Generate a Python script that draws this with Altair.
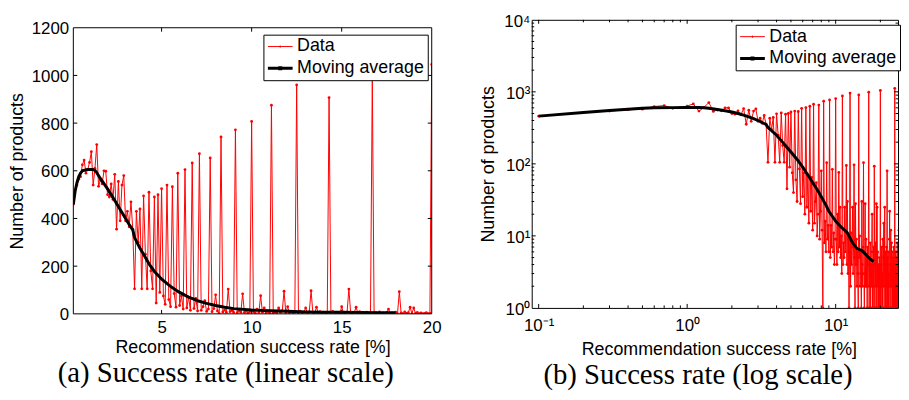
import altair as alt
import pandas as pd
import numpy as np

SERIES = ["Data", "Moving average"]

# Recommendation success-rate bins, 0.1 % wide: 0.1, 0.2, ... 27.0
rate_bins = np.round(np.arange(1, 271) * 0.1, 1)

# Number of products per bin
counts = [
    460, 520, 540, 565, 575, 625, 645, 590, 605, 635,   # 0.1 - 1.0
    680, 540, 610, 710, 535, 560, 545, 600, 598, 500,   # 1.1 - 2.0
    490, 545, 480, 585, 355, 555, 390, 540, 580, 390,   # 2.1 - 3.0
    430, 365, 470, 355, 105, 430, 300, 440, 105, 495,   # 3.1 - 4.0
    250, 105, 510, 180, 105, 490, 45, 500, 90, 525,     # 4.1 - 5.0
    75, 40, 540, 60, 30, 533, 85, 28, 590, 35,          # 5.1 - 6.0
    75, 20, 605, 25, 70, 15, 633, 22, 65, 12,           # 6.1 - 7.0
    672, 15, 30, 55, 10, 20, 654, 9, 22, 80,            # 7.1 - 8.0
    12, 1, 742, 8, 16, 6, 104, 9, 14, 6,                # 8.1 - 9.0
    772, 5, 14, 7, 84, 6, 11, 4, 9, 807,                # 9.1 - 10.0
    9, 4, 20, 6, 76, 7, 25, 5, 10, 3,                   # 10.1 - 11.0
    875, 4, 8, 5, 25, 6, 12, 95, 4, 30,                 # 11.1 - 12.0
    3, 9, 1, 6, 960, 2, 11, 4, 7, 25,                   # 12.1 - 13.0
    3, 8, 97, 5, 1, 28, 4, 9, 2, 6,                     # 13.1 - 14.0
    3, 1, 907, 5, 10, 2, 6, 3, 1, 30,                   # 14.1 - 15.0
    4, 2, 7, 104, 3, 1, 6, 28, 2, 9,                    # 15.1 - 16.0
    2, 5, 1, 7, 2, 4, 988, 1, 5, 2,                     # 16.1 - 17.0
    8, 1, 4, 2, 6, 20, 1, 4, 2, 7,                      # 17.1 - 18.0
    1, 93, 4, 1, 8, 2, 5, 28, 1, 25,                    # 18.1 - 19.0
    2, 6, 1, 4, 1, 2, 5, 1, 2, 1046,                    # 19.1 - 20.0
    1, 4, 2, 7, 1, 3, 1, 9, 2, 5,                       # 20.1 - 21.0
    15, 1, 4, 25, 2, 6, 1, 4, 1, 7,                     # 21.1 - 22.0
    2, 80, 1, 5, 2, 6, 1, 3, 2, 9,                      # 22.1 - 23.0
    22, 1, 4, 2, 12, 1, 5, 8, 2, 6,                     # 23.1 - 24.0
    1, 4, 2, 5, 1, 7, 2, 3, 1, 1120,                    # 24.1 - 25.0
    2, 4, 1, 6, 2, 3, 1, 5, 2, 8,                       # 25.1 - 26.0
    1, 5, 2, 6, 1, 3, 12, 2, 4, 1,                      # 26.1 - 27.0
]

# Moving average
ma_rate = [0.1, 0.2, 0.3, 0.4, 0.5, 0.6, 0.8, 1.0, 1.2, 1.3, 1.4, 1.6, 1.8,
           2.0, 2.2, 2.4, 2.6, 2.8, 3.0, 3.2, 3.4, 3.5, 3.6, 3.8, 4.0, 4.3,
           4.6, 5.0, 5.5, 6.0, 6.5, 7.0, 7.5, 8.0, 8.5, 9.0, 10.0, 11.0,
           12.0, 13.0, 14.0, 15.0, 16.0, 17.0, 18.0]
ma_count = [460, 515, 550, 575, 590, 600, 604, 606, 605, 602, 592, 568, 546,
            524, 500, 475, 450, 425, 400, 375, 352, 320, 305, 275, 250, 210,
            178, 146, 115, 90, 70, 55, 44, 35, 28, 22, 16, 13,
            11, 8, 6.6, 6.3, 5.5, 4.8, 4.4]

# Axis ticks / frame
lin_x_labels = [5, 10, 15, 20]
lin_y_labels = [0, 200, 400, 600, 800, 1000, 1200]
lin_x_ticks = [5, 10, 15]
lin_y_ticks = [200, 400, 600, 800, 1000]
lin_frame = {"lo": [0], "hi": [1200]}

log_x_labels = [0.1, 1, 10]
log_y_labels = [1, 10, 100, 1000, 10000]
log_x_major = [0.1, 1, 10]
log_x_minor = [0.2, 0.3, 0.4, 0.5, 0.6, 0.7, 0.8, 0.9,
               2, 3, 4, 5, 6, 7, 8, 9, 20]
log_y_major = [10, 100, 1000]
log_y_minor = [2, 3, 4, 5, 6, 7, 8, 9,
               20, 30, 40, 50, 60, 70, 80, 90,
               200, 300, 400, 500, 600, 700, 800, 900,
               2000, 3000, 4000, 5000, 6000, 7000, 8000, 9000]

data_df = pd.DataFrame({"rate": rate_bins, "count": counts, "series": "Data"})
ma_df = pd.DataFrame({"rate": ma_rate, "count": ma_count, "series": "Moving average"})

FONT = "Liberation Sans"
SERIF = "Liberation Serif"
SYMBOL = "M-1,0H2.33M0.6,-0.07H0.73V0.07H0.6Z"

SUP = "['\u207b\u00b9','\u2070','\u00b9','\u00b2','\u00b3','\u2074']"
LOG_LABEL = "'10' + " + SUP + "[round(log(datum.value)/LN10) + 1]"

# layout (pixels)
LIN_W, LIN_H, LIN_PAD = 362, 297, 8      # linear frame starts LIN_PAD below its plot top
LOG_W, LOG_H = 370, 291


def make_legend(lx, ly):
    return alt.Legend(title=None, orient="none", legendX=lx, legendY=ly,
                      symbolType=SYMBOL, symbolSize=225, labelFontSize=18,
                      labelFont=FONT, labelColor="black", labelOffset=13,
                      padding=3, rowPadding=4, strokeColor="black",
                      fillColor="white", cornerRadius=0)


def tick_layer(vals, scale, a, b, horizontal):
    src = alt.Chart(pd.DataFrame({"t": vals})).mark_rule(color="black", strokeWidth=1)
    if horizontal:
        return src.encode(x=alt.X("t:Q", scale=scale, axis=None),
                          y=alt.value(a), y2=alt.value(b))
    return src.encode(y=alt.Y("t:Q", scale=scale, axis=None),
                      x=alt.value(a), x2=alt.value(b))


def panel(W, H, top, xscale, yscale, xaxis, yaxis, xmaj, xmin, ymaj, ymin,
          leg, spacer, caption, cap_dx, cap_off, frame=None):
    color = alt.Color("series:N", scale=alt.Scale(domain=SERIES, range=["#ff0000", "#000000"]),
                      legend=leg)
    sw = alt.StrokeWidth("series:N", scale=alt.Scale(type="point", domain=SERIES,
                                                     range=[1.0, 3.0], padding=0),
                         legend=leg)
    data_line = alt.Chart(data_df).mark_line(clip=True).encode(
        x=alt.X("rate:Q", scale=xscale, axis=xaxis),
        y=alt.Y("count:Q", scale=yscale, axis=yaxis),
        color=color, strokeWidth=sw)
    data_pts = alt.Chart(data_df).mark_point(filled=True, size=8, color="#ff0000",
                                             opacity=1, clip=True).encode(
        x=alt.X("rate:Q", scale=xscale, axis=None),
        y=alt.Y("count:Q", scale=yscale, axis=None))
    ma_line = alt.Chart(ma_df).mark_line(clip=True, strokeJoin="round").encode(
        x=alt.X("rate:Q", scale=xscale, axis=None),
        y=alt.Y("count:Q", scale=yscale, axis=None),
        color=color, strokeWidth=sw)
    # top ticks; its (label-less) top axis reserves the space above the plot
    spacer_layer = alt.Chart(pd.DataFrame({"t": xmaj})).mark_rule(
        color="black", strokeWidth=1).encode(
        x=alt.X("t:Q", scale=xscale,
                axis=alt.Axis(orient="top", labels=False, ticks=False, domain=False,
                              grid=False, title=" ", titleFontSize=1,
                              titlePadding=spacer - 1,
                              minExtent=0, maxExtent=0)),
        y=alt.value(top), y2=alt.value(top + 4))
    layers = [data_line, data_pts, ma_line]
    if frame is not None:
        layers.append(alt.Chart(pd.DataFrame(frame)).mark_rect(
            filled=False, color="black", strokeWidth=1).encode(
            x=alt.value(0), x2=alt.value(W),
            y=alt.Y("hi:Q", scale=yscale, axis=None), y2="lo:Q"))
    layers += [spacer_layer, tick_layer(xmaj, xscale, H, H - 4, True)]
    if xmin:
        layers += [tick_layer(xmin, xscale, top, top + 2.5, True),
                   tick_layer(xmin, xscale, H, H - 2.5, True)]
    layers += [tick_layer(ymaj, yscale, 0, 4, False),
               tick_layer(ymaj, yscale, W, W - 4, False)]
    if ymin:
        layers += [tick_layer(ymin, yscale, 0, 2.5, False),
                   tick_layer(ymin, yscale, W, W - 2.5, False)]
    ch = alt.layer(*layers).resolve_axis(x="independent", y="independent").properties(
        width=W, height=H,
        title=alt.TitleParams(text=caption, orient="bottom", anchor="middle",
                              font=SERIF, fontSize=29, fontWeight="normal",
                              color="black", offset=cap_off, dx=cap_dx))
    if frame is not None:
        ch = ch.properties(view=alt.ViewBackground(stroke="transparent"))
    return ch


lin = panel(
    LIN_W, LIN_H, LIN_PAD,
    alt.Scale(domain=[0.1, 20], nice=False, zero=False),
    alt.Scale(domain=[0, 1200 * LIN_H / (LIN_H - LIN_PAD)], nice=False, zero=True),
    alt.Axis(values=lin_x_labels, title="Recommendation success rate [%]",
             labelPadding=5.6, titlePadding=3),
    alt.Axis(values=lin_y_labels, format="d", title="Number of products",
             labelPadding=4.7, titlePadding=4.5, labelOffset=1,
             titleY=LIN_PAD + (LIN_H - LIN_PAD) / 2),
    lin_x_ticks, [], lin_y_ticks, [],
    make_legend(192, 15), 1, "(a) Success rate (linear scale)", -27, 3.4,
    frame=lin_frame)

log = panel(
    LOG_W, LOG_H, 0,
    alt.Scale(type="log", domain=[0.0898, 26.3], nice=False),
    alt.Scale(type="log", domain=[1, 10000], nice=False),
    alt.Axis(values=log_x_labels, labelExpr=LOG_LABEL,
             title="Recommendation success rate [%]",
             labelPadding=10.3, titlePadding=6.6, titleX=189),
    alt.Axis(values=log_y_labels, labelExpr=LOG_LABEL, title="Number of products",
             labelPadding=2, titlePadding=6, labelOffset=2),
    log_x_major, log_x_minor, log_y_major, log_y_minor,
    make_legend(206, 5), 9, "(b) Success rate (log scale)", -17, 2.6)

chart = alt.concat(lin, log, columns=2, spacing=38, align="none").resolve_scale(
    color="independent", strokeWidth="independent"
).resolve_legend(
    color="independent", strokeWidth="independent"
).properties(
    padding=0, background="white"
).configure_view(stroke="black", strokeWidth=1).configure_axis(
    grid=False, ticks=False, domain=False, labelColor="black", titleColor="black",
    labelFont=FONT, titleFont=FONT, labelFontSize=17, titleFontSize=18,
    titleFontWeight="normal", minExtent=0, labelOverlap=False, labelFlush=False
)

chart.save("out.html", embed_options={"renderer": "svg", "actions": False})
